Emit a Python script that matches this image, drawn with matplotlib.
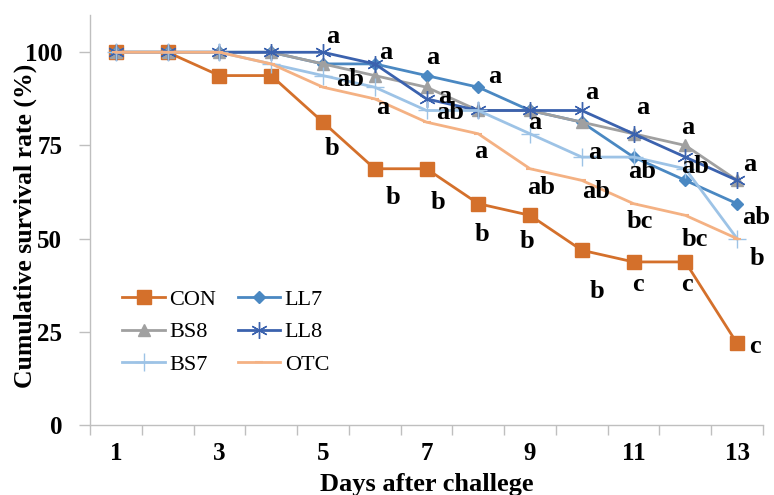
import matplotlib
matplotlib.use("Agg")
import matplotlib.pyplot as plt
from matplotlib.ticker import FixedLocator, NullFormatter

# ---------------- data ----------------
days = list(range(1, 14))
CON = [100, 100, 93.75, 93.75, 81.25, 68.75, 68.75, 59.38, 56.25, 46.88, 43.75, 43.75, 21.88]
LL7 = [100, 100, 100, 100, 96.88, 96.88, 93.75, 90.63, 84.38, 81.25, 71.88, 65.63, 59.38]
BS8 = [100, 100, 100, 100, 96.88, 93.75, 90.63, 84.38, 84.38, 81.25, 78.13, 75.0, 65.63]
LL8 = [100, 100, 100, 100, 100, 96.88, 87.5, 84.38, 84.38, 84.38, 78.13, 71.88, 65.63]
BS7 = [100, 100, 100, 96.88, 93.75, 90.63, 84.38, 84.38, 78.13, 71.88, 71.88, 68.75, 50.0]
OTC = [100, 100, 100, 96.88, 90.63, 87.5, 81.25, 78.13, 68.75, 65.63, 59.38, 56.25, 50.0]

x_tick_labels = ["1", "3", "5", "7", "9", "11", "13"]
y_ticks = [0, 25, 50, 75, 100]

# significance letters and their (x, y) positions in data coordinates
sig_letters = ["a", "a", "ab", "a", "a", "ab", "a", "a", "a", "a", "a", "a", "a",
               "ab", "ab", "ab", "a", "ab", "a", "ab", "b", "bc", "bc", "b", "c",
               "c", "c", "b", "b", "b", "b", "b"]
sig_x = [5.19, 6.22, 5.52, 7.12, 7.36, 7.45, 6.16, 8.32, 10.19, 11.18, 9.09, 8.05, 10.25,
         11.16, 9.21, 10.27, 12.05, 12.18, 13.25, 13.37, 13.38, 11.12, 12.18, 10.29, 11.08,
         12.03, 13.34, 5.17, 6.35, 7.22, 8.07, 8.94]
sig_y = [104.3, 100.0, 92.7, 98.7, 88.2, 83.9, 85.2, 93.5, 89.2, 85.2, 81.2, 73.4, 73.1,
         68.0, 63.7, 62.6, 79.8, 69.4, 69.9, 55.6, 44.6, 54.6, 49.7, 35.8, 37.6,
         37.6, 21.0, 74.2, 61.0, 59.7, 51.1, 49.2]

# ---------------- figure ----------------
serif = ["Liberation Serif", "DejaVu Serif"]
fig = plt.figure(figsize=(7.74, 4.95), dpi=100)
ax = fig.add_axes([90 / 774, 1 - 425 / 495, 673 / 774, 410 / 495])

lw = 2.0
h_con, = ax.plot(days, CON, color="#D4702B", lw=lw, marker="s", markersize=9.5, label="CON", zorder=3)
h_ll7, = ax.plot(days, LL7, color="#4A88C2", lw=lw, marker="D", markersize=6.5, label="LL7", zorder=4)
h_bs8, = ax.plot(days, BS8, color="#A0A0A0", lw=lw, marker="^", markersize=9, label="BS8", zorder=4)
h_ll8, = ax.plot(days, LL8, color="#3B62AE", lw=lw, marker=(6, 2, 0), markersize=12,
                 markeredgewidth=1.0, label="LL8", zorder=5)
h_bs7, = ax.plot(days, BS7, color="#9DC3E6", lw=lw, marker="+", markersize=13,
                 markeredgewidth=1.0, label="BS7", zorder=5)
h_otc, = ax.plot(days, OTC, color="#F4B183", lw=lw, marker="_", markersize=6,
                 markeredgewidth=1.5, label="OTC", zorder=6)

for t, xx, yy in zip(sig_letters, sig_x, sig_y):
    ax.text(xx, yy, t, fontsize=19, fontweight="bold", family=serif,
            ha="center", va="center", color="black", zorder=10)

ax.set_xlim(0.5, 13.5)
ax.set_ylim(0, 110)

ax.xaxis.set_major_locator(FixedLocator([1, 3, 5, 7, 9, 11, 13]))
ax.set_xticklabels(x_tick_labels)
ax.xaxis.set_minor_locator(FixedLocator([i + 0.5 for i in range(0, 14)]))
ax.xaxis.set_minor_formatter(NullFormatter())
ax.tick_params(axis="x", which="major", length=0, pad=12)
ax.tick_params(axis="x", which="minor", length=7, color="#BFBFBF", width=1, direction="out")

ax.set_yticks(y_ticks)
ax.tick_params(axis="y", which="major", length=8, color="#BFBFBF", width=1, direction="out", pad=12)

for lab in ax.get_xticklabels() + ax.get_yticklabels():
    lab.set_fontfamily(serif)
    lab.set_fontweight("bold")
    lab.set_fontsize(18)

for s in ["top", "right"]:
    ax.spines[s].set_visible(False)
for s in ["left", "bottom"]:
    ax.spines[s].set_color("#BFBFBF")
    ax.spines[s].set_linewidth(1)

ax.set_xlabel("Days after challege", fontsize=19, fontweight="bold", family=serif)
ax.set_ylabel("Cumulative survival rate (%)", fontsize=18.5, fontweight="bold", family=serif)
ax.xaxis.set_label_coords(0.5, -0.118)
ax.yaxis.set_label_coords(-0.079, 0.485)

leg = ax.legend(handles=[h_con, h_bs8, h_bs7, h_ll7, h_ll8, h_otc], ncol=2,
                loc="lower left", bbox_to_anchor=(0.035, 0.1), frameon=False,
                prop={"family": serif, "size": 16}, handlelength=1.9,
                handletextpad=0.2, columnspacing=1.0, labelspacing=0.55,
                borderaxespad=0)

fig.savefig("out.png", dpi=100)
